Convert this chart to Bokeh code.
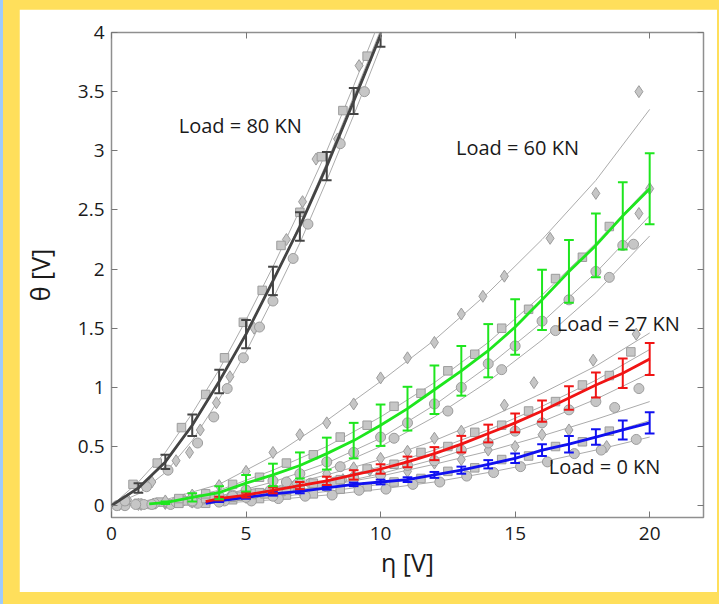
import numpy as np
from bokeh.plotting import figure
from bokeh.layouts import column
from bokeh.models import Range1d, LinearAxis, FixedTicker
from bokeh.embed import file_html
from bokeh.resources import INLINE
from bokeh.core.properties import value

# ---------------- data ----------------
# mean response per load (x = eta [V], y = theta [V]); error = half-width of bar (0 = no bar)
x_80 = [0, 1, 2, 3, 4, 5, 6, 7, 8, 9, 10]
mean_80 = [0, 0.15, 0.37, 0.68, 1.05, 1.45, 1.90, 2.36, 2.87, 3.42, 3.98]
err_80 = [0, 0.04, 0.06, 0.09, 0.10, 0.12, 0.12, 0.12, 0.12, 0.11, 0.10]

x_60 = [1.4, 2, 3, 4, 5, 6, 7, 8, 9, 10, 11, 12, 13, 14, 15, 16, 17, 18, 19, 20]
mean_60 = [0.015, 0.025, 0.07, 0.11, 0.19, 0.26, 0.34, 0.44, 0.55, 0.68, 0.82, 0.98,
           1.14, 1.31, 1.51, 1.74, 1.98, 2.20, 2.45, 2.68]
err_60 = [0, 0.01, 0.035, 0.055, 0.07, 0.095, 0.11, 0.135, 0.15, 0.175, 0.185, 0.205,
          0.21, 0.225, 0.235, 0.255, 0.265, 0.27, 0.285, 0.30]

x_27 = [3.5, 4, 5, 6, 7, 8, 9, 10, 11, 12, 13, 14, 15, 16, 17, 18, 19, 20]
mean_27 = [0.035, 0.06, 0.09, 0.13, 0.17, 0.21, 0.26, 0.31, 0.37, 0.44, 0.52, 0.61,
           0.70, 0.80, 0.91, 1.02, 1.12, 1.24]
err_27 = [0, 0.015, 0.02, 0.025, 0.03, 0.035, 0.04, 0.04, 0.045, 0.055, 0.07, 0.075,
          0.08, 0.09, 0.10, 0.105, 0.125, 0.135]

x_0 = [3.5, 4, 5, 6, 7, 8, 9, 10, 11, 12, 13, 14, 15, 16, 17, 18, 19, 20]
mean_0 = [0.02, 0.04, 0.07, 0.10, 0.12, 0.15, 0.18, 0.20, 0.22, 0.26, 0.30, 0.35,
          0.40, 0.47, 0.52, 0.58, 0.64, 0.70]
err_0 = [0, 0.01, 0.012, 0.015, 0.015, 0.015, 0.015, 0.02, 0.02, 0.025, 0.03, 0.035,
         0.04, 0.05, 0.07, 0.065, 0.08, 0.09]

# fitted curves of the individual specimens
fit_x_80 = [0, 1, 2, 3, 4, 5, 6, 7, 8, 9, 10]
fits_80 = [
    [0, 0.20, 0.45, 0.78, 1.15, 1.57, 2.02, 2.50, 3.00, 3.55, 4.12],
    [0, 0.14, 0.36, 0.67, 1.04, 1.46, 1.90, 2.38, 2.90, 3.46, 4.02],
    [0, 0.10, 0.28, 0.55, 0.90, 1.30, 1.75, 2.22, 2.75, 3.30, 3.88],
]
fit_x = [0, 2, 4, 6, 8, 10, 12, 14, 16, 18, 20]
fits_60 = [
    [0, 0.05, 0.18, 0.42, 0.72, 1.05, 1.40, 1.80, 2.25, 2.75, 3.35],
    [0, 0.03, 0.13, 0.30, 0.50, 0.75, 1.04, 1.38, 1.78, 2.22, 2.70],
    [0, 0.02, 0.08, 0.20, 0.36, 0.57, 0.85, 1.18, 1.55, 1.97, 2.45],
    [0, 0.01, 0.06, 0.15, 0.30, 0.50, 0.75, 1.05, 1.40, 1.80, 2.28],
]
fits_27 = [
    [0, 0.02, 0.07, 0.15, 0.26, 0.39, 0.55, 0.74, 0.95, 1.18, 1.46],
    [0, 0.02, 0.06, 0.12, 0.21, 0.33, 0.47, 0.64, 0.84, 1.06, 1.32],
    [0, 0.01, 0.04, 0.09, 0.17, 0.27, 0.39, 0.54, 0.71, 0.90, 1.12],
]
fits_0 = [
    [0, 0.01, 0.05, 0.10, 0.17, 0.25, 0.35, 0.46, 0.59, 0.73, 0.88],
    [0, 0.01, 0.03, 0.07, 0.12, 0.18, 0.26, 0.35, 0.46, 0.58, 0.72],
    [0, 0.005, 0.02, 0.05, 0.09, 0.14, 0.20, 0.28, 0.37, 0.47, 0.58],
]

# measured points of the specimens (diamond / square / circle)
dia_x_80 = [0.6, 1.5, 2.4, 2.9, 3.3, 3.9, 4.4, 5.3, 6.5, 7.1, 7.6, 8.4, 9.2]
dia_y_80 = [0.05, 0.20, 0.38, 0.45, 0.64, 0.87, 1.09, 1.50, 2.25, 2.57, 2.93, 3.10, 3.72]
sq_x_80 = [0.8, 1.7, 2.6, 3.5, 4.2, 4.9, 5.6, 6.3, 7.0, 7.8, 8.6, 9.5]
sq_y_80 = [0.18, 0.36, 0.66, 0.94, 1.25, 1.55, 1.82, 2.20, 2.48, 2.95, 3.34, 3.80]
ci_x_80 = [0.5, 1.3, 2.1, 3.2, 3.8, 4.3, 4.9, 5.5, 6.0, 6.75, 7.3, 8.5, 9.4]
ci_y_80 = [0.04, 0.16, 0.30, 0.53, 0.75, 0.99, 1.25, 1.51, 1.73, 2.09, 2.38, 3.06, 3.50]

dia_x_60 = [2, 3, 4, 5, 6, 7, 8, 9, 10, 11, 12, 13, 13.8, 14.6, 16.3, 18, 19.6, 19.6, 20]
dia_y_60 = [0.04, 0.09, 0.17, 0.29, 0.45, 0.60, 0.70, 0.86, 1.08, 1.25, 1.38, 1.62,
            1.77, 1.94, 2.26, 2.64, 3.50, 2.47, 2.68]
sq_x_60 = [2.5, 3.5, 4.5, 5.5, 6.5, 7.5, 8.5, 9.5, 10.5, 11.5, 12.5, 13.5, 14.5, 15.5,
           16.5, 17.5, 18.5]
sq_y_60 = [0.06, 0.10, 0.18, 0.24, 0.36, 0.43, 0.58, 0.68, 0.84, 0.95, 1.14, 1.28, 1.50,
           1.66, 1.92, 2.10, 2.36]
ci_x_60 = [3, 4, 5, 6, 7, 8, 9, 10, 11, 12, 13, 14, 15, 16, 17, 18, 19, 19.4,
           4.5, 6.5, 8.5, 10.5, 12.5, 14.5, 16.5, 18.5]
ci_y_60 = [0.04, 0.08, 0.13, 0.21, 0.27, 0.37, 0.45, 0.58, 0.70, 0.86, 1.00, 1.20, 1.35,
           1.56, 1.74, 1.98, 2.20, 2.21, 0.08, 0.20, 0.33, 0.57, 0.80, 1.15, 1.48, 1.93]

dia_x_27 = [2, 3, 4, 5, 6, 7, 8, 9, 10, 11, 12, 13, 14.6, 15.7, 17.9, 19.5]
dia_y_27 = [0.03, 0.04, 0.08, 0.10, 0.16, 0.20, 0.27, 0.32, 0.40, 0.46, 0.57, 0.63,
            0.85, 1.04, 1.23, 1.45]
sq_x_27 = [2.5, 3.5, 4.5, 5.5, 6.5, 7.5, 8.5, 9.5, 10.5, 11.5, 12.5, 13.5, 14.5, 15.5,
           16.5, 17.5, 18.5, 19.3]
sq_y_27 = [0.02, 0.06, 0.07, 0.11, 0.13, 0.19, 0.22, 0.31, 0.35, 0.45, 0.50, 0.62, 0.68,
           0.80, 0.88, 1.02, 1.10, 1.30]
ci_x_27 = [1.5, 3, 4, 5, 6, 7, 8, 9, 10, 11, 12, 13, 14, 15, 16, 17, 18, 18.7, 19.6]
ci_y_27 = [0.01, 0.03, 0.03, 0.07, 0.08, 0.14, 0.16, 0.23, 0.26, 0.34, 0.38, 0.47, 0.53,
           0.63, 0.70, 0.81, 0.88, 0.83, 0.99]

dia_x_0 = [1, 2, 3, 4, 5, 6, 7, 8, 9, 10, 11, 12, 13, 14, 15, 16, 17, 18.4,
           0.3, 1.1, 2.0, 2.7, 3.6, 4.4, 5.1, 6.0, 6.8, 7.6, 8.6, 9.6]
dia_y_0 = [0.01, 0.02, 0.03, 0.06, 0.07, 0.10, 0.13, 0.18, 0.20, 0.26, 0.29, 0.36, 0.39,
           0.47, 0.50, 0.60, 0.64, 0.50,
           0.01, 0.01, 0.02, 0.05, 0.04, 0.08, 0.12, 0.11, 0.17, 0.16, 0.22, 0.30]
sq_x_0 = [1.5, 2.5, 3.5, 4.5, 5.5, 6.5, 7.5, 8.5, 9.5, 10.5, 11.5, 12.5, 13.5, 14.5,
          15.5, 16.5, 17.5, 18.5,
          0.4, 1.0, 1.8, 2.8, 3.3, 4.0, 4.8, 5.7, 6.3, 7.0, 7.8]
sq_y_0 = [0.01, 0.02, 0.02, 0.05, 0.06, 0.09, 0.10, 0.14, 0.16, 0.20, 0.23, 0.29, 0.32,
          0.39, 0.42, 0.50, 0.54, 0.63,
          0.01, 0.02, 0.03, 0.04, 0.05, 0.06, 0.08, 0.10, 0.12, 0.14, 0.17]
ci_x_0 = [0.5, 1.2, 2.2, 3.2, 4.2, 5.2, 6.2, 7.2, 8.2, 9.2, 10.2, 11.2, 12.2, 13.2, 14.2,
          15.2, 16.2, 17.2, 18.2, 19.5,
          0.2, 0.9, 1.6, 2.4, 3.0, 3.7, 4.5, 5.3, 5.9, 6.6, 7.4, 8.3, 9.0]
ci_y_0 = [0.0, 0.01, 0.01, 0.02, 0.04, 0.04, 0.06, 0.08, 0.09, 0.13, 0.14, 0.18, 0.20,
          0.25, 0.28, 0.33, 0.37, 0.44, 0.47, 0.56,
          0.0, 0.01, 0.02, 0.03, 0.06, 0.07, 0.09, 0.10, 0.13, 0.15, 0.19, 0.20, 0.24]

# annotations
label_text = ["Load = 80 KN", "Load = 60 KN", "Load = 27 KN", "Load = 0 KN"]
label_x = [2.5, 12.8, 16.55, 16.25]
label_y = [3.21, 3.03, 1.54, 0.33]

x_ticks = [0, 5, 10, 15, 20]
x_tick_labels = ["0", "5", "10", "15", "20"]
y_ticks = [0, 0.5, 1, 1.5, 2, 2.5, 3, 3.5, 4]
y_tick_labels = ["0", "0.5", "1", "1.5", "2", "2.5", "3", "3.5", "4"]

# ---------------- styling ----------------
FONT = "Open Sans"
YELLOW = "#ffdf5b"
BLUE_STRIP = "#9ecbfb"
FIT_COLOR = "#ababab"
PT_FILL = "#c6c6c6"
PT_LINE = "#9c9c9c"
CAP = 0.18

p = figure(width=698, height=583, x_range=Range1d(0, 22), y_range=Range1d(-0.1, 4),
           output_backend="svg", toolbar_location=None,
           min_border_left=92, min_border_right=14, min_border_top=23,
           min_border_bottom=75)
p.border_fill_color = "white"
p.background_fill_color = "white"
p.grid.visible = False
p.outline_line_color = "#8f8f8f"
p.outline_line_width = 1.5

# axes
for ax in (p.xaxis[0], p.yaxis[0]):
    ax.axis_line_color = None
    ax.major_tick_in = 6
    ax.major_tick_out = 0
    ax.major_tick_line_color = "#777777"
    ax.minor_tick_line_color = None
    ax.major_label_text_font = FONT
    ax.major_label_text_font_size = "19px"
    ax.major_label_text_color = "#1a1a1a"
    ax.axis_label_text_font = FONT
    ax.axis_label_text_font_size = "25px"
    ax.axis_label_text_font_style = "normal"
    ax.axis_label_text_color = "#1a1a1a"

p.xaxis.ticker = FixedTicker(ticks=x_ticks)
p.yaxis.ticker = FixedTicker(ticks=y_ticks)
p.xaxis.major_label_overrides = {t: s for t, s in zip(x_ticks, x_tick_labels)}
p.yaxis.major_label_overrides = {t: s for t, s in zip(y_ticks, y_tick_labels)}
p.xaxis.axis_label = "η [V]"
p.yaxis.axis_label = "θ [V]"
p.xaxis.major_label_standoff = 9
p.yaxis.major_label_standoff = 7
p.xaxis.axis_label_standoff = 2
p.yaxis.axis_label_standoff = 18

# mirrored tick marks on the top and right edges of the box
top_ax = LinearAxis(ticker=FixedTicker(ticks=x_ticks),
                    major_label_overrides={t: "" for t in x_ticks})
right_ax = LinearAxis(ticker=FixedTicker(ticks=y_ticks),
                      major_label_overrides={t: "" for t in y_ticks})
for ax in (top_ax, right_ax):
    ax.axis_line_color = None
    ax.major_tick_in = 6
    ax.major_tick_out = 0
    ax.major_tick_line_color = "#777777"
    ax.minor_tick_line_color = None
    ax.major_label_standoff = 0
p.add_layout(top_ax, "above")
p.add_layout(right_ax, "right")

# specimen fits and points
for xs, curves in ((fit_x_80, fits_80), (fit_x, fits_60), (fit_x, fits_27), (fit_x, fits_0)):
    for ys in curves:
        p.line(xs, ys, line_color=FIT_COLOR, line_width=1)

for (dx, dy, sx, sy, cx, cy) in (
        (dia_x_0, dia_y_0, sq_x_0, sq_y_0, ci_x_0, ci_y_0),
        (dia_x_27, dia_y_27, sq_x_27, sq_y_27, ci_x_27, ci_y_27),
        (dia_x_60, dia_y_60, sq_x_60, sq_y_60, ci_x_60, ci_y_60),
        (dia_x_80, dia_y_80, sq_x_80, sq_y_80, ci_x_80, ci_y_80)):
    p.scatter(dx, dy, marker="diamond", size=12, fill_color=PT_FILL, line_color=PT_LINE)
    p.scatter(sx, sy, marker="square", size=8.5, fill_color=PT_FILL, line_color=PT_LINE)
    p.scatter(cx, cy, marker="circle", size=10, fill_color=PT_FILL, line_color=PT_LINE)


def mean_with_bars(xs, ys, es, color):
    xs, ys, es = np.asarray(xs, float), np.asarray(ys, float), np.asarray(es, float)
    p.line(xs, ys, line_color=color, line_width=2.8)
    m = es > 0
    bx, lo, hi = xs[m], (ys - es)[m], (ys + es)[m]
    p.segment(bx, lo, bx, hi, line_color=color, line_width=2)
    p.segment(bx - CAP, hi, bx + CAP, hi, line_color=color, line_width=2)
    p.segment(bx - CAP, lo, bx + CAP, lo, line_color=color, line_width=2)


mean_with_bars(x_0, mean_0, err_0, "#1010f0")
mean_with_bars(x_27, mean_27, err_27, "#f01414")
mean_with_bars(x_60, mean_60, err_60, "#1ee61e")
mean_with_bars(x_80, mean_80, err_80, "#444444")

p.text(x=label_x, y=label_y, text=label_text, text_font=value(FONT),
       text_font_size="20px", text_baseline="middle", text_align="left",
       text_color="#1a1a1a")

# yellow card frame with a thin blue strip along the left edge
page = column(p, styles={
    "background": f"linear-gradient(to right, {BLUE_STRIP} 0px, {BLUE_STRIP} 3px, {YELLOW} 3px)",
    "padding": "9px 2px 12px 19px",
})

open("out.html", "w").write(file_html(page, INLINE))
